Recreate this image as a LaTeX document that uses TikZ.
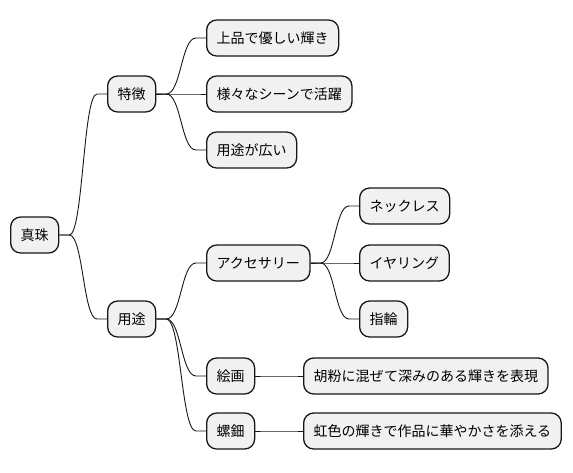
\documentclass[tikz,border=0pt]{standalone}
\usepackage{fontspec}
\setmainfont{Noto Sans CJK JP}
\usetikzlibrary{calc}
\definecolor{c18}{HTML}{181818}
\definecolor{cF1}{HTML}{F1F1F1}
\tikzset{
  box/.style={draw=c18, fill=cF1, rounded corners=10pt, line width=1.3pt,
    minimum height=36pt, inner xsep=10pt, inner ysep=0pt, anchor=west,
    font=\fontsize{14pt}{16pt}\selectfont, text height=12pt, text depth=2pt},
  conn/.style={draw=c18, line width=0.9pt}
}
\newcommand\mmedge[2]{%
  \draw[conn] let \p1=(#1.east), \p2=(#2.west) in
    (\p1) -- (\x1+10pt,\y1) .. controls ({(\x1+\x2)/2},\y1) and ({(\x1+\x2)/2},\y2) .. (\x2-10pt,\y2) -- (\p2);}
\begin{document}
\begin{tikzpicture}[x=1pt,y=-1pt]
\fill[white] (0,0) rectangle (573,472);
\useasboundingbox (0,0) rectangle (573,472);
\node[box] (root) at (10,235) {真珠};
\node[box] (f) at (107,94) {特徴};
\node[box] (f1) at (206,38) {上品で優しい輝き};
\node[box] (f2) at (206,94) {様々なシーンで活躍};
\node[box] (f3) at (206,150) {用途が広い};
\node[box] (u) at (107,319) {用途};
\node[box] (a) at (206,263) {アクセサリー};
\node[box] (a1) at (359,206) {ネックレス};
\node[box] (a2) at (359,263) {イヤリング};
\node[box] (a3) at (359,319) {指輪};
\node[box] (e) at (206,376) {絵画};
\node[box] (e1) at (303,376) {胡粉に混ぜて深みのある輝きを表現};
\node[box] (r) at (206,431) {螺鈿};
\node[box] (r1) at (303,431) {虹色の輝きで作品に華やかさを添える};
\mmedge{root}{f}
\mmedge{root}{u}
\mmedge{f}{f1}
\mmedge{f}{f2}
\mmedge{f}{f3}
\mmedge{u}{a}
\mmedge{u}{e}
\mmedge{u}{r}
\mmedge{a}{a1}
\mmedge{a}{a2}
\mmedge{a}{a3}
\mmedge{e}{e1}
\mmedge{r}{r1}
\end{tikzpicture}
\end{document}
